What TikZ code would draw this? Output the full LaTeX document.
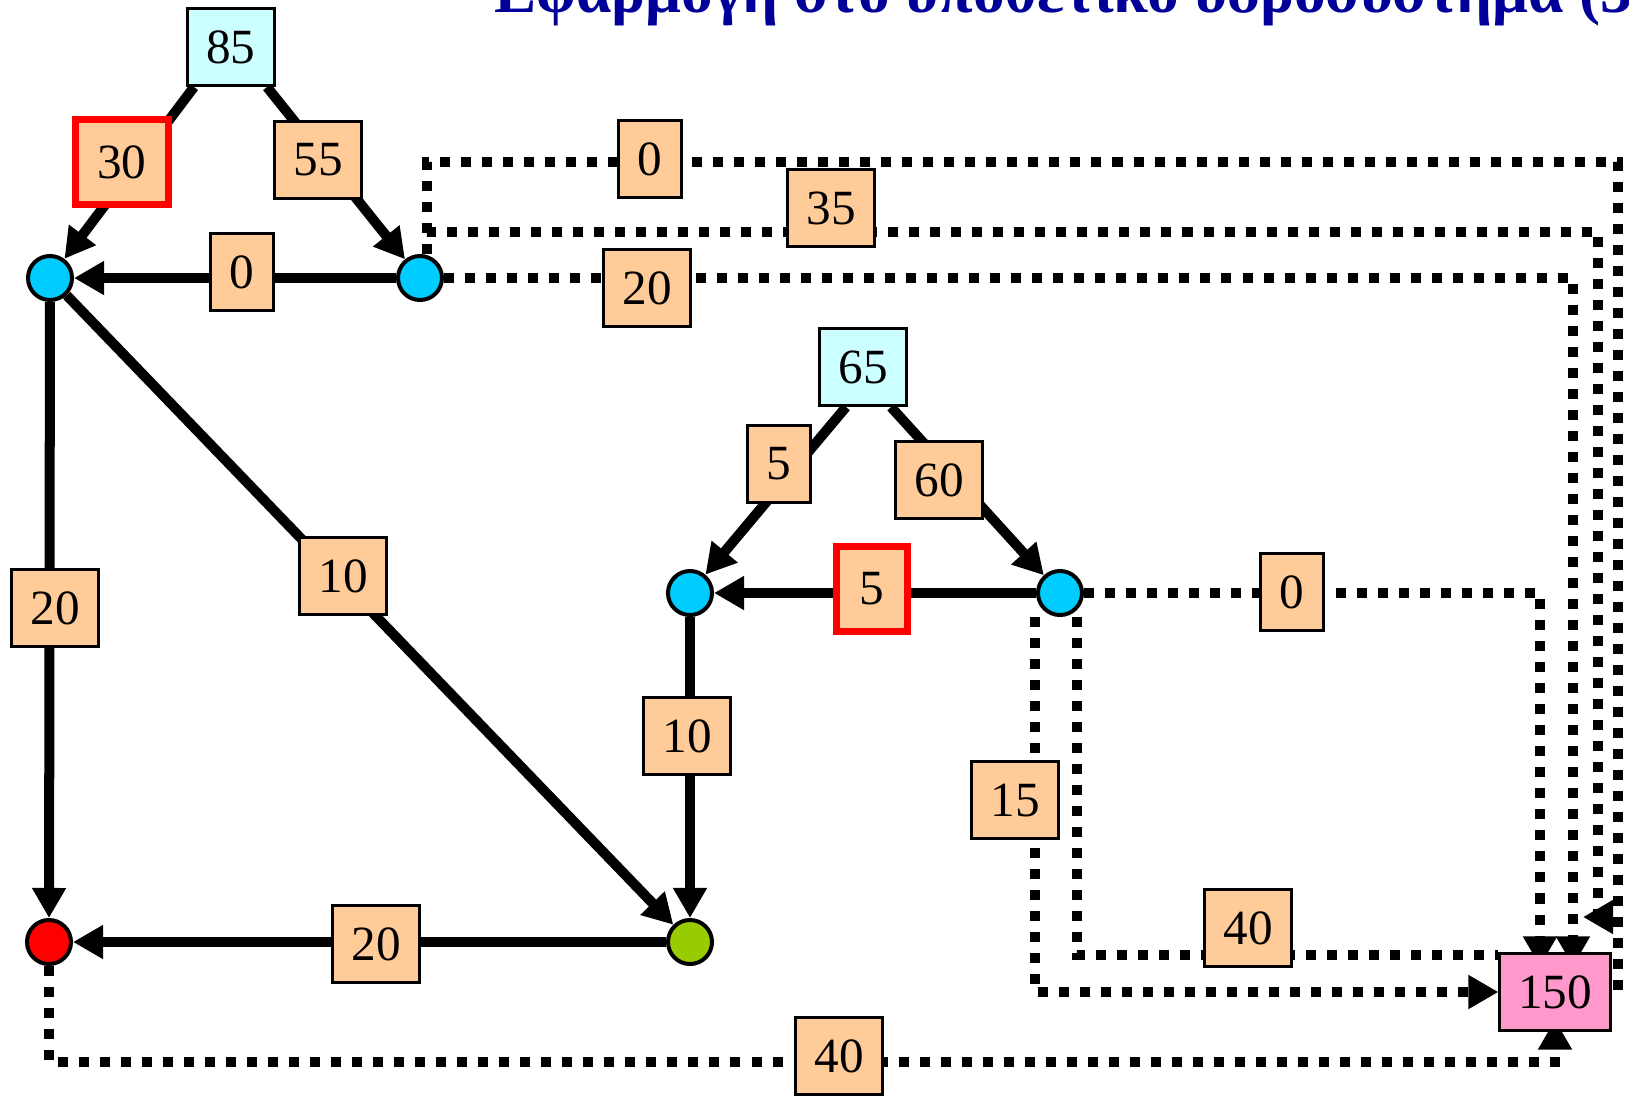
\documentclass[tikz,border=0pt]{standalone}
\usepackage{fontspec}
\setmainfont{Liberation Serif}
\usetikzlibrary{arrows.meta}
\pgfdeclarelayer{back}
\pgfsetlayers{back,main}
\definecolor{peach}{RGB}{255,204,153}
\definecolor{pale}{RGB}{204,255,255}
\definecolor{sky}{RGB}{0,204,255}
\definecolor{lime}{RGB}{153,204,0}
\definecolor{rose}{RGB}{255,153,204}
\definecolor{navy}{RGB}{0,0,153}

\begin{document}
\begin{tikzpicture}[x=0.01cm,y=-0.01cm,
  lbl/.style={font=\fontsize{14}{16}\selectfont},
  junc/.style={circle,draw,line width=0.04cm,minimum size=0.44cm,inner sep=0pt,fill=sky},
  flowbox/.style={lbl,draw,line width=0.03cm,fill=peach,minimum width=0.87cm,minimum height=0.77cm,inner sep=0pt},
  narrow/.style={flowbox,minimum width=0.62cm},
  hot/.style={draw=red,line width=0.07cm,minimum width=0.93cm,minimum height=0.84cm},
  tank/.style={flowbox,fill=pale},
  tip/.style={-{Triangle[length=0.3cm,width=0.32cm]}},
  pipe/.style={line width=0.1cm,tip},
  leak/.style={line width=0.1cm,dash pattern=on 0.1cm off 0.11cm}]
\useasboundingbox (0,0) rectangle (1629,1096);
\begin{scope}
 \clip (0,0) rectangle (1629,1096);
 \node[anchor=base west,inner sep=0pt,text=navy,font=\fontsize{18}{21}\selectfont\bfseries] (title) at (494,12) {Εφαρμογή στο υποθετικό υδροσύστημα (3)};
\end{scope}

% sources, junctions and sea
\node[tank] (s85) at (231,47) {85};
\node[tank] (s65) at (863,367) {65};
\node[junc] (n1) at (50,278) {};
\node[junc] (n2) at (420,278) {};
\node[junc] (n3) at (690,593) {};
\node[junc] (n4) at (1060,593) {};
\node[junc,fill=lime] (n5) at (690,942) {};
\node[junc,fill=red] (n6) at (49,942) {};
\node[flowbox,fill=rose,minimum width=1.1cm,minimum height=0.76cm] (sea) at (1555,992) {150};

% flows
\node[flowbox,hot] (q30) at (122,162) {30};
\node[flowbox] (q55) at (318,160) {55};
\node[narrow] (q0a) at (242,272) {0};
\node[flowbox] (q20a) at (55,608) {20};
\node[flowbox] (q10a) at (343,576) {10};
\node[narrow] (q5a) at (779,464) {5};
\node[flowbox] (q60) at (939,480) {60};
\node[narrow,hot,minimum width=0.71cm,minimum height=0.85cm] (q5b) at (872,589) {5};
\node[flowbox] (q10b) at (687,736) {10};
\node[flowbox] (q20b) at (376,944) {20};
\node[narrow] (q0b) at (650,159) {0};
\node[flowbox] (q35) at (831,208) {35};
\node[flowbox] (q20c) at (647,288) {20};
\node[narrow] (q0c) at (1292,592) {0};
\node[flowbox] (q15) at (1015,800) {15};
\node[flowbox] (q40a) at (1248,928) {40};
\node[flowbox] (q40b) at (839,1056) {40};

\coordinate (ra) at (1618,162);
\coordinate (rb) at (1598,232);
\coordinate (rc) at (1583,917);
\coordinate (sb) at (1555,1062);

\begin{pgfonlayer}{back}
\draw[pipe] ([xshift=-0.37cm]s85.south) -- (n1);
\draw[pipe] ([xshift=0.36cm]s85.south) -- (n2);
\draw[pipe] (n2) -- (n1);
\draw[pipe] (n1) -- (n6);
\draw[pipe] (n1) -- (n5);
\draw[pipe] (n5) -- (n6);
\draw[pipe] ([xshift=-0.17cm]s65.south) -- (n3);
\draw[pipe] ([xshift=0.28cm]s65.south) -- (n4);
\draw[pipe] (n4) -- (n3);
\draw[pipe] (n3) -- (n5);
% spills, routed round the edge
\draw[leak] ([xshift=0.07cm]n2.north) |- (ra) -- (ra |- sea.east);
\draw[leak,tip] ([xshift=0.07cm]n2.north) |- (rb) -- (rb |- rc) -- (rc);
\draw[leak,tip] (n2.east) -| ([xshift=0.18cm,yshift=-0.14cm]sea.north);
\draw[leak,tip] (n4.east) -| ([xshift=-0.15cm,yshift=-0.14cm]sea.north);
\draw[leak,tip] ([xshift=-0.25cm]n4.south) |- (sea.west);
\draw[leak] ([xshift=0.17cm]n4.south) |- ([yshift=-0.03cm]sea.north west);
\draw[leak,tip] (n6.south) |- (sb) -- ([yshift=0.12cm]sea.south);
\end{pgfonlayer}
\end{tikzpicture}
\end{document}
